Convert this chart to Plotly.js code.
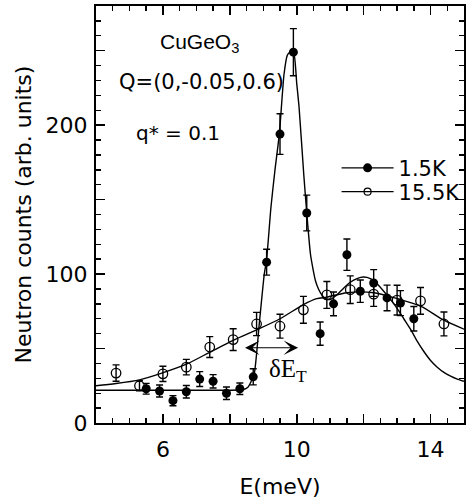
<!DOCTYPE html>
<html>
<head>
<meta charset="utf-8">
<script src="https://cdn.plot.ly/plotly-3.0.1.min.js"></script>
<style>
  html, body { margin: 0; padding: 0; background: #fff; }
  #chart { width: 466px; height: 499px; }
</style>
</head>
<body>
<div id="chart"></div>
<script>
// CuGeO3 inelastic neutron scan at Q=(0,-0.05,0.6): counts vs energy transfer

// 1.5 K measurement (filled circles)
const energyLow = [5.5, 5.9, 6.3, 6.7, 7.1, 7.5, 7.9, 8.3, 8.7, 9.1, 9.5,
                   9.9, 10.3, 10.7, 11.1, 11.5, 11.9, 12.3, 12.7, 13.1, 13.5];
const countsLow = [23, 21.5, 15, 21, 29.5, 28, 20, 23, 31, 108, 194,
                   249, 141, 60, 80, 113, 88.5, 94, 84, 80.5, 70];
const errorLow  = [3.6, 4, 3.4, 4.2, 5, 4.5, 4.2, 3.9, 5.4, 8.7, 13.6,
                   15.8, 12, 7.8, 8, 10.5, 7.5, 9, 8.6, 8.4, 8.2];

// 15.5 K measurement (open circles)
const energyHigh = [4.6, 5.3, 6.0, 6.7, 7.4, 8.1, 8.8, 9.5, 10.2, 10.9,
                    11.6, 12.3, 13.0, 13.7, 14.4];
const countsHigh = [33.5, 25, 33, 37.5, 51, 56, 66.5, 65, 76, 86,
                    89.5, 86.5, 82.5, 82, 66.5];
const errorHigh  = [5.5, 3.4, 5.1, 5.2, 7, 7.3, 7.8, 8, 9, 9,
                    9.3, 8.2, 10, 9, 8];

// Fitted line shapes
const fitLowE = [4.0, 5.0, 6.0, 7.0, 8.0, 8.4, 8.54, 8.63, 8.73, 8.88, 9.03,
                 9.1, 9.23, 9.35, 9.48, 9.62, 9.72, 9.8, 9.9, 10.0, 10.07,
                 10.21, 10.3, 10.41, 10.49, 10.56, 10.65, 10.75, 10.85, 11.0,
                 11.2, 11.4, 11.6, 11.8, 12.0, 12.2, 12.4, 12.6, 12.8, 13.0,
                 13.2, 13.4, 13.6, 13.8, 14.0, 14.2, 14.4, 14.6, 14.8, 15.0];
const fitLowC = [22, 22, 22, 22, 22, 22.5, 24, 27.5, 33, 66.5, 100,
                 110, 145, 170, 194, 234, 247, 249, 249.5, 228, 212,
                 167, 141, 113.5, 103, 95.5, 90, 86, 83.5, 83,
                 86, 90.5, 94.5, 97, 98, 97, 93.5, 88.5, 83, 77,
                 70, 63, 55, 48, 42, 37.5, 34, 31.5, 29.5, 28];

const fitHighE = [4.0, 4.6, 5.3, 5.9, 6.7, 7.4, 8.1, 8.8, 9.5, 10.2, 10.6,
                  10.9, 11.5, 12.3, 13.0, 13.7, 14.4, 15.0];
const fitHighC = [25, 26.5, 29, 33, 39.5, 47.5, 55.5, 62.5, 70, 79.5, 83.5,
                  84.5, 87.5, 87.5, 83.5, 78.5, 69, 63];

// Axis ticks: labelled majors and unlabelled majors
const xLabelVals = [6, 10, 14];
const xPlainMajors = [4, 8, 12];
const yLabelVals = [0, 100, 200];
const yPlainMajors = [50, 150, 250];

// Legend labels
const seriesNames = ['1.5K', '15.5K'];

const ink = '#000';
const tickFont = {family: 'DejaVu Sans', size: 22, color: ink};

const traces = [
  {
    x: fitHighE, y: fitHighC, mode: 'lines', type: 'scatter',
    line: {color: ink, width: 1.4, shape: 'spline', smoothing: 0.8},
    showlegend: false, hoverinfo: 'skip'
  },
  {
    x: fitLowE, y: fitLowC, mode: 'lines', type: 'scatter',
    line: {color: ink, width: 1.4, shape: 'spline', smoothing: 0.6},
    showlegend: false, hoverinfo: 'skip'
  },
  {
    x: energyHigh, y: countsHigh, mode: 'markers', type: 'scatter',
    marker: {symbol: 'circle-open', size: 9.5, color: ink, line: {width: 1.3, color: ink}},
    error_y: {type: 'data', array: errorHigh, visible: true, color: ink, thickness: 1.4, width: 3.5},
    showlegend: false
  },
  {
    x: energyLow, y: countsLow, mode: 'markers', type: 'scatter',
    marker: {symbol: 'circle', size: 9, color: ink},
    error_y: {type: 'data', array: errorLow, visible: true, color: ink, thickness: 1.4, width: 3.5},
    showlegend: false
  },
  // legend keys, one per legend box so the rows sit close together
  {
    x: [null], y: [null], mode: 'lines+markers', type: 'scatter', name: seriesNames[0],
    legend: 'legend',
    line: {color: ink, width: 1.2}, marker: {symbol: 'circle', size: 9, color: ink}
  },
  {
    x: [null], y: [null], mode: 'lines+markers', type: 'scatter', name: seriesNames[1],
    legend: 'legend2',
    line: {color: ink, width: 1.2},
    marker: {symbol: 'circle-open', size: 7, color: ink, line: {width: 1.2, color: ink}}
  },
  // binds the overlay axes that carry the unlabelled long ticks
  {
    x: [null], y: [null], xaxis: 'x2', yaxis: 'y2', type: 'scatter',
    mode: 'markers', showlegend: false, hoverinfo: 'skip'
  }
];

const axisCommon = {
  showline: true, linecolor: ink, linewidth: 2, mirror: 'ticks',
  ticks: 'inside', ticklen: 9, tickwidth: 1.6, tickcolor: ink,
  showgrid: false, zeroline: false, tickmode: 'array', tickfont: tickFont
};

const overlayCommon = {
  showline: false, mirror: 'ticks', ticks: 'inside', ticklen: 9, tickwidth: 1.6,
  tickcolor: ink, showgrid: false, zeroline: false, showticklabels: false,
  tickmode: 'array'
};

const legendCommon = {
  x: 0.652, xanchor: 'left', yanchor: 'middle',
  bgcolor: 'rgba(0,0,0,0)', borderwidth: 0, itemwidth: 52,
  font: {family: 'DejaVu Sans', size: 21, color: ink}
};

const layout = {
  width: 466, height: 499,
  margin: {l: 96, r: 1, t: 6, b: 76},
  paper_bgcolor: '#fff', plot_bgcolor: '#fff',
  font: {family: 'DejaVu Sans', color: ink},
  showlegend: true,
  legend: Object.assign({}, legendCommon, {y: 0.611}),
  legend2: Object.assign({}, legendCommon, {y: 0.554}),
  xaxis: Object.assign({}, axisCommon, {
    range: [4, 15], tickvals: xLabelVals, ticklabelstandoff: 6,
    minor: {dtick: 0.5, ticks: 'inside', ticklen: 5, tickwidth: 1.4, tickcolor: ink},
    title: {text: 'E(meV)', font: {family: 'DejaVu Sans', size: 22, color: ink}, standoff: 18}
  }),
  yaxis: Object.assign({}, axisCommon, {
    range: [0, 280], tickvals: yLabelVals, ticklabelstandoff: 2,
    minor: {dtick: 10, ticks: 'inside', ticklen: 5, tickwidth: 1.4, tickcolor: ink},
    title: {text: 'Neutron counts (arb. units)', font: {family: 'DejaVu Sans', size: 22, color: ink}, standoff: 8}
  }),
  xaxis2: Object.assign({}, overlayCommon, {
    overlaying: 'x', matches: 'x', anchor: 'y', side: 'bottom', tickvals: xPlainMajors
  }),
  yaxis2: Object.assign({}, overlayCommon, {
    overlaying: 'y', matches: 'y', anchor: 'x', side: 'left', tickvals: yPlainMajors
  }),
  annotations: [
    {x: 7.1, y: 255, xref: 'x', yref: 'y', showarrow: false,
     text: 'CuGeO<sub>3</sub>', font: {family: 'Liberation Sans', size: 21, color: ink}},
    {x: 7.15, y: 229, xref: 'x', yref: 'y', showarrow: false,
     text: 'Q=(0,-0.05,0.6)', font: {family: 'DejaVu Sans', size: 21, color: ink}},
    {x: 6.45, y: 195, xref: 'x', yref: 'y', showarrow: false,
     text: 'q* = 0.1', font: {family: 'DejaVu Sans', size: 20, color: ink}},
    {x: 10.04, y: 50.5, ax: 8.41, ay: 50.5, xref: 'x', yref: 'y', axref: 'x', ayref: 'y',
     text: '', showarrow: true, arrowside: 'end+start', arrowhead: 3, startarrowhead: 3,
     arrowsize: 2.2, startarrowsize: 2.2, arrowwidth: 1.1, arrowcolor: ink},
    {x: 9.75, y: 35, xref: 'x', yref: 'y', showarrow: false,
     text: '\u03B4E<sub>T</sub>', font: {family: 'Liberation Serif', size: 25, color: ink}}
  ]
};

Plotly.newPlot('chart', traces, layout, {displayModeBar: false, staticPlot: true});
</script>
</body>
</html>
